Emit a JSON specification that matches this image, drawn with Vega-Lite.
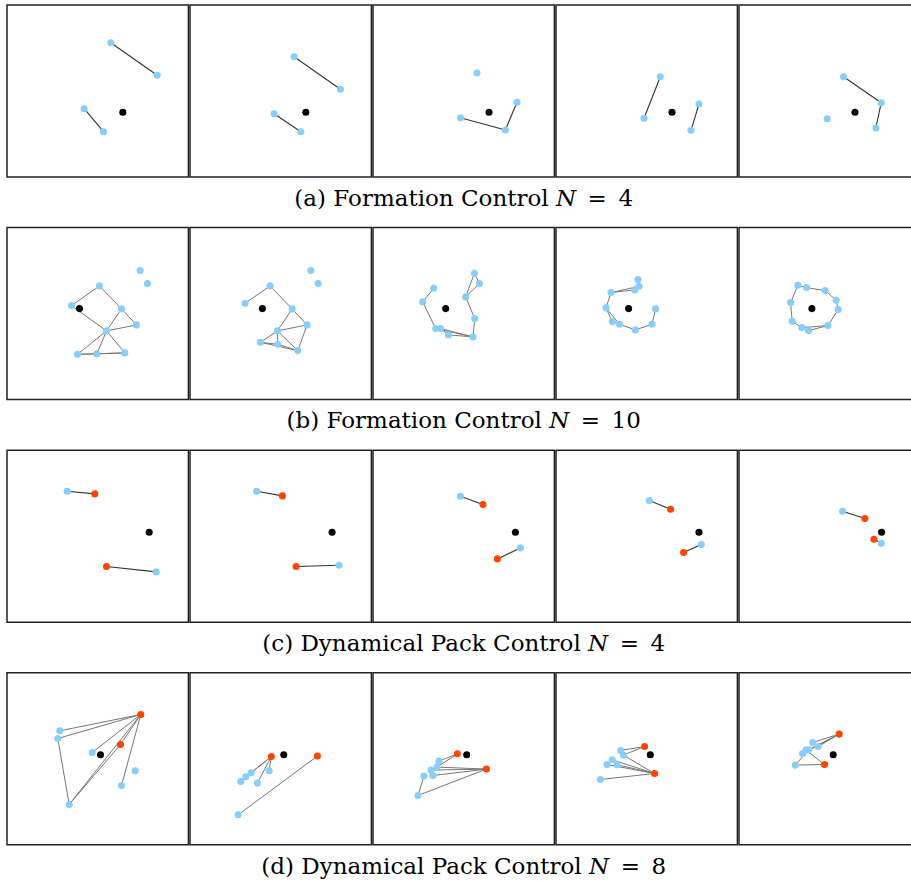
{
  "$schema": "https://vega.github.io/schema/vega-lite/v6.json",
  "padding": {"left": 6, "top": 4, "right": 0, "bottom": 0},
  "background": "white",
  "spacing": 15.6,
  "config": {
    "view": {"stroke": "#222", "strokeWidth": 1.5},
    "title": {"font": "DejaVu Serif", "fontSize": 23, "fontWeight": "normal", "color": "#000", "offset": 10, "anchor": "middle"}
  },
  "datasets": {
    "a": [
      {"p":1,"k":"e","x":103.8,"y":37.7,"x2":150.2,"y2":70.3},
      {"p":1,"k":"e","x":77.2,"y":103.7,"x2":96.5,"y2":126.7},
      {"p":1,"k":"n","t":"f","x":103.8,"y":37.7},
      {"p":1,"k":"n","t":"f","x":150.2,"y":70.3},
      {"p":1,"k":"n","t":"f","x":77.2,"y":103.7},
      {"p":1,"k":"n","t":"f","x":96.5,"y":126.7},
      {"p":1,"k":"n","t":"l","x":115.8,"y":107.3},
      {"p":2,"k":"e","x":104.1,"y":51.7,"x2":150.4,"y2":84.3},
      {"p":2,"k":"e","x":84.1,"y":108.7,"x2":110.8,"y2":126.7},
      {"p":2,"k":"n","t":"f","x":104.1,"y":51.7},
      {"p":2,"k":"n","t":"f","x":150.4,"y":84.3},
      {"p":2,"k":"n","t":"f","x":84.1,"y":108.7},
      {"p":2,"k":"n","t":"f","x":110.8,"y":126.7},
      {"p":2,"k":"n","t":"l","x":115.8,"y":107.3},
      {"p":3,"k":"e","x":87.4,"y":112.7,"x2":132.4,"y2":125},
      {"p":3,"k":"e","x":132.4,"y":125,"x2":144,"y2":97.3},
      {"p":3,"k":"n","t":"f","x":104,"y":68},
      {"p":3,"k":"n","t":"f","x":144,"y":97.3},
      {"p":3,"k":"n","t":"f","x":87.4,"y":112.7},
      {"p":3,"k":"n","t":"f","x":132.4,"y":125},
      {"p":3,"k":"n","t":"l","x":116,"y":107.3},
      {"p":4,"k":"e","x":104.3,"y":71.7,"x2":88,"y2":113.3},
      {"p":4,"k":"e","x":143,"y":99,"x2":135,"y2":125.3},
      {"p":4,"k":"n","t":"f","x":104.3,"y":71.7},
      {"p":4,"k":"n","t":"f","x":88,"y":113.3},
      {"p":4,"k":"n","t":"f","x":143,"y":99},
      {"p":4,"k":"n","t":"f","x":135,"y":125.3},
      {"p":4,"k":"n","t":"l","x":116,"y":107.3},
      {"p":5,"k":"e","x":104.6,"y":71.7,"x2":142.2,"y2":97.7},
      {"p":5,"k":"e","x":142.2,"y":97.7,"x2":136.9,"y2":123},
      {"p":5,"k":"n","t":"f","x":104.6,"y":71.7},
      {"p":5,"k":"n","t":"f","x":142.2,"y":97.7},
      {"p":5,"k":"n","t":"f","x":136.9,"y":123},
      {"p":5,"k":"n","t":"f","x":88.2,"y":113.7},
      {"p":5,"k":"n","t":"l","x":116,"y":107.3}
    ],
    "b": [
      {"p":1,"k":"e","x":64.5,"y":78,"x2":92.5,"y2":58.3},
      {"p":1,"k":"e","x":92.5,"y":58.3,"x2":114.5,"y2":81.3},
      {"p":1,"k":"e","x":114.5,"y":81.3,"x2":129.5,"y2":97.3},
      {"p":1,"k":"e","x":114.5,"y":81.3,"x2":99.5,"y2":103.3},
      {"p":1,"k":"e","x":129.5,"y":97.3,"x2":99.5,"y2":103.3},
      {"p":1,"k":"e","x":64.5,"y":78,"x2":99.5,"y2":103.3},
      {"p":1,"k":"e","x":99.5,"y":103.3,"x2":70.5,"y2":126.7},
      {"p":1,"k":"e","x":99.5,"y":103.3,"x2":89.8,"y2":126.3},
      {"p":1,"k":"e","x":99.5,"y":103.3,"x2":117.8,"y2":125.3},
      {"p":1,"k":"e","x":70.5,"y":126.7,"x2":89.8,"y2":126.3},
      {"p":1,"k":"e","x":89.8,"y":126.3,"x2":117.8,"y2":125.3},
      {"p":1,"k":"e","x":70.5,"y":126.7,"x2":117.8,"y2":125.3},
      {"p":1,"k":"n","t":"f","x":133.2,"y":43},
      {"p":1,"k":"n","t":"f","x":140.5,"y":56},
      {"p":1,"k":"n","t":"f","x":92.5,"y":58.3},
      {"p":1,"k":"n","t":"f","x":64.5,"y":78},
      {"p":1,"k":"n","t":"f","x":114.5,"y":81.3},
      {"p":1,"k":"n","t":"f","x":129.5,"y":97.3},
      {"p":1,"k":"n","t":"f","x":99.5,"y":103.3},
      {"p":1,"k":"n","t":"f","x":70.5,"y":126.7},
      {"p":1,"k":"n","t":"f","x":89.8,"y":126.3},
      {"p":1,"k":"n","t":"f","x":117.8,"y":125.3},
      {"p":1,"k":"n","t":"l","x":72.5,"y":81},
      {"p":2,"k":"e","x":55.1,"y":75.7,"x2":80.1,"y2":58.3},
      {"p":2,"k":"e","x":80.1,"y":58.3,"x2":102.1,"y2":81.3},
      {"p":2,"k":"e","x":102.1,"y":81.3,"x2":87.4,"y2":103.3},
      {"p":2,"k":"e","x":102.1,"y":81.3,"x2":117.1,"y2":97.3},
      {"p":2,"k":"e","x":87.4,"y":103.3,"x2":117.1,"y2":97.3},
      {"p":2,"k":"e","x":117.1,"y":97.3,"x2":107.8,"y2":123},
      {"p":2,"k":"e","x":87.4,"y":103.3,"x2":70.4,"y2":114.7},
      {"p":2,"k":"e","x":87.4,"y":103.3,"x2":87.8,"y2":116.7},
      {"p":2,"k":"e","x":87.4,"y":103.3,"x2":107.8,"y2":123},
      {"p":2,"k":"e","x":70.4,"y":114.7,"x2":87.8,"y2":116.7},
      {"p":2,"k":"e","x":70.4,"y":114.7,"x2":107.8,"y2":123},
      {"p":2,"k":"e","x":87.8,"y":116.7,"x2":107.8,"y2":123},
      {"p":2,"k":"n","t":"f","x":120.8,"y":43},
      {"p":2,"k":"n","t":"f","x":128.1,"y":56},
      {"p":2,"k":"n","t":"f","x":80.1,"y":58.3},
      {"p":2,"k":"n","t":"f","x":55.1,"y":75.7},
      {"p":2,"k":"n","t":"f","x":102.1,"y":81.3},
      {"p":2,"k":"n","t":"f","x":117.1,"y":97.3},
      {"p":2,"k":"n","t":"f","x":87.4,"y":103.3},
      {"p":2,"k":"n","t":"f","x":70.4,"y":114.7},
      {"p":2,"k":"n","t":"f","x":87.8,"y":116.7},
      {"p":2,"k":"n","t":"f","x":107.8,"y":123},
      {"p":2,"k":"n","t":"l","x":72.4,"y":81},
      {"p":3,"k":"e","x":60.7,"y":60.7,"x2":49.7,"y2":74.3},
      {"p":3,"k":"e","x":49.7,"y":74.3,"x2":62.7,"y2":101},
      {"p":3,"k":"e","x":62.7,"y":101,"x2":67.7,"y2":101},
      {"p":3,"k":"e","x":62.7,"y":101,"x2":100,"y2":109.3},
      {"p":3,"k":"e","x":67.7,"y":101,"x2":75.4,"y2":107.3},
      {"p":3,"k":"e","x":67.7,"y":101,"x2":100,"y2":109.3},
      {"p":3,"k":"e","x":75.4,"y":107.3,"x2":100,"y2":109.3},
      {"p":3,"k":"e","x":100,"y":109.3,"x2":101.7,"y2":91},
      {"p":3,"k":"e","x":101.7,"y":91,"x2":92.7,"y2":69.3},
      {"p":3,"k":"e","x":92.7,"y":69.3,"x2":101.4,"y2":45.7},
      {"p":3,"k":"e","x":92.7,"y":69.3,"x2":106.4,"y2":56},
      {"p":3,"k":"e","x":101.4,"y":45.7,"x2":106.4,"y2":56},
      {"p":3,"k":"n","t":"f","x":101.4,"y":45.7},
      {"p":3,"k":"n","t":"f","x":106.4,"y":56},
      {"p":3,"k":"n","t":"f","x":92.7,"y":69.3},
      {"p":3,"k":"n","t":"f","x":60.7,"y":60.7},
      {"p":3,"k":"n","t":"f","x":49.7,"y":74.3},
      {"p":3,"k":"n","t":"f","x":101.7,"y":91},
      {"p":3,"k":"n","t":"f","x":100,"y":109.3},
      {"p":3,"k":"n","t":"f","x":62.7,"y":101},
      {"p":3,"k":"n","t":"f","x":67.7,"y":101},
      {"p":3,"k":"n","t":"f","x":75.4,"y":107.3},
      {"p":3,"k":"n","t":"l","x":72.7,"y":81},
      {"p":4,"k":"e","x":55,"y":65,"x2":83,"y2":58.7},
      {"p":4,"k":"e","x":55,"y":65,"x2":78.6,"y2":62.3},
      {"p":4,"k":"e","x":82,"y":52,"x2":83,"y2":58.7},
      {"p":4,"k":"e","x":55,"y":65,"x2":50,"y2":80.3},
      {"p":4,"k":"e","x":50,"y":80.3,"x2":56.3,"y2":94},
      {"p":4,"k":"e","x":50,"y":80.3,"x2":63.6,"y2":96.7},
      {"p":4,"k":"e","x":56.3,"y":94,"x2":63.6,"y2":96.7},
      {"p":4,"k":"e","x":63.6,"y":96.7,"x2":79.3,"y2":102.3},
      {"p":4,"k":"e","x":79.3,"y":102.3,"x2":96,"y2":96.7},
      {"p":4,"k":"e","x":96,"y":96.7,"x2":99.6,"y2":81.3},
      {"p":4,"k":"n","t":"f","x":82,"y":52},
      {"p":4,"k":"n","t":"f","x":83,"y":58.7},
      {"p":4,"k":"n","t":"f","x":78.6,"y":62.3},
      {"p":4,"k":"n","t":"f","x":55,"y":65},
      {"p":4,"k":"n","t":"f","x":50,"y":80.3},
      {"p":4,"k":"n","t":"f","x":99.6,"y":81.3},
      {"p":4,"k":"n","t":"f","x":96,"y":96.7},
      {"p":4,"k":"n","t":"f","x":79.3,"y":102.3},
      {"p":4,"k":"n","t":"f","x":63.6,"y":96.7},
      {"p":4,"k":"n","t":"f","x":56.3,"y":94},
      {"p":4,"k":"n","t":"l","x":72.6,"y":81},
      {"p":5,"k":"e","x":58.9,"y":57.7,"x2":67.6,"y2":60},
      {"p":5,"k":"e","x":67.6,"y":60,"x2":86.2,"y2":63},
      {"p":5,"k":"e","x":86.2,"y":63,"x2":97.2,"y2":72.7},
      {"p":5,"k":"e","x":97.2,"y":72.7,"x2":99.2,"y2":82},
      {"p":5,"k":"e","x":99.2,"y":82,"x2":88.9,"y2":98},
      {"p":5,"k":"e","x":88.9,"y":98,"x2":69.6,"y2":103},
      {"p":5,"k":"e","x":88.9,"y":98,"x2":62.9,"y2":100},
      {"p":5,"k":"e","x":69.6,"y":103,"x2":62.9,"y2":100},
      {"p":5,"k":"e","x":62.9,"y":100,"x2":53.2,"y2":93.7},
      {"p":5,"k":"e","x":53.2,"y":93.7,"x2":51.6,"y2":75},
      {"p":5,"k":"e","x":51.6,"y":75,"x2":58.9,"y2":57.7},
      {"p":5,"k":"n","t":"f","x":58.9,"y":57.7},
      {"p":5,"k":"n","t":"f","x":67.6,"y":60},
      {"p":5,"k":"n","t":"f","x":86.2,"y":63},
      {"p":5,"k":"n","t":"f","x":97.2,"y":72.7},
      {"p":5,"k":"n","t":"f","x":99.2,"y":82},
      {"p":5,"k":"n","t":"f","x":88.9,"y":98},
      {"p":5,"k":"n","t":"f","x":69.6,"y":103},
      {"p":5,"k":"n","t":"f","x":62.9,"y":100},
      {"p":5,"k":"n","t":"f","x":53.2,"y":93.7},
      {"p":5,"k":"n","t":"f","x":51.6,"y":75},
      {"p":5,"k":"n","t":"l","x":72.9,"y":81}
    ],
    "c": [
      {"p":1,"k":"e","x":60.2,"y":41,"x2":87.8,"y2":43.7},
      {"p":1,"k":"e","x":99.5,"y":116.3,"x2":149.2,"y2":121.7},
      {"p":1,"k":"n","t":"f","x":60.2,"y":41},
      {"p":1,"k":"n","t":"r","x":87.8,"y":43.7},
      {"p":1,"k":"n","t":"l","x":142.2,"y":82},
      {"p":1,"k":"n","t":"r","x":99.5,"y":116.3},
      {"p":1,"k":"n","t":"f","x":149.2,"y":121.7},
      {"p":2,"k":"e","x":66.8,"y":41,"x2":92.4,"y2":45.7},
      {"p":2,"k":"e","x":106.1,"y":116.3,"x2":149.1,"y2":115},
      {"p":2,"k":"n","t":"f","x":66.8,"y":41},
      {"p":2,"k":"n","t":"r","x":92.4,"y":45.7},
      {"p":2,"k":"n","t":"l","x":142.1,"y":82},
      {"p":2,"k":"n","t":"r","x":106.1,"y":116.3},
      {"p":2,"k":"n","t":"f","x":149.1,"y":115},
      {"p":3,"k":"e","x":87.4,"y":46,"x2":110,"y2":54.3},
      {"p":3,"k":"e","x":147.4,"y":97.7,"x2":124.4,"y2":108.7},
      {"p":3,"k":"n","t":"f","x":87.4,"y":46},
      {"p":3,"k":"n","t":"r","x":110,"y":54.3},
      {"p":3,"k":"n","t":"l","x":142.4,"y":82},
      {"p":3,"k":"n","t":"f","x":147.4,"y":97.7},
      {"p":3,"k":"n","t":"r","x":124.4,"y":108.7},
      {"p":4,"k":"e","x":93.3,"y":50.3,"x2":114.6,"y2":59},
      {"p":4,"k":"e","x":145.3,"y":94.3,"x2":127.6,"y2":102.3},
      {"p":4,"k":"n","t":"f","x":93.3,"y":50.3},
      {"p":4,"k":"n","t":"r","x":114.6,"y":59},
      {"p":4,"k":"n","t":"l","x":143,"y":82},
      {"p":4,"k":"n","t":"f","x":145.3,"y":94.3},
      {"p":4,"k":"n","t":"r","x":127.6,"y":102.3},
      {"p":5,"k":"e","x":103.6,"y":61,"x2":125.9,"y2":68.3},
      {"p":5,"k":"e","x":134.9,"y":89,"x2":142.2,"y2":93},
      {"p":5,"k":"n","t":"f","x":103.6,"y":61},
      {"p":5,"k":"n","t":"r","x":125.9,"y":68.3},
      {"p":5,"k":"n","t":"l","x":142.6,"y":82},
      {"p":5,"k":"n","t":"r","x":134.9,"y":89},
      {"p":5,"k":"n","t":"f","x":142.2,"y":93}
    ],
    "d": [
      {"p":1,"k":"e","x":133.8,"y":41.7,"x2":52.8,"y2":58},
      {"p":1,"k":"e","x":133.8,"y":41.7,"x2":50.8,"y2":65.7},
      {"p":1,"k":"e","x":50.8,"y":65.7,"x2":62.2,"y2":131.7},
      {"p":1,"k":"e","x":133.8,"y":41.7,"x2":85.2,"y2":79.7},
      {"p":1,"k":"e","x":133.8,"y":41.7,"x2":62.2,"y2":131.7},
      {"p":1,"k":"e","x":113.5,"y":71.7,"x2":62.2,"y2":131.7},
      {"p":1,"k":"e","x":133.8,"y":41.7,"x2":114.5,"y2":112.7},
      {"p":1,"k":"e","x":133.8,"y":41.7,"x2":113.5,"y2":71.7},
      {"p":1,"k":"n","t":"r","x":133.8,"y":41.7},
      {"p":1,"k":"n","t":"f","x":52.8,"y":58},
      {"p":1,"k":"n","t":"f","x":50.8,"y":65.7},
      {"p":1,"k":"n","t":"r","x":113.5,"y":71.7},
      {"p":1,"k":"n","t":"f","x":85.2,"y":79.7},
      {"p":1,"k":"n","t":"l","x":93.5,"y":82},
      {"p":1,"k":"n","t":"f","x":128.2,"y":98},
      {"p":1,"k":"n","t":"f","x":114.5,"y":112.7},
      {"p":1,"k":"n","t":"f","x":62.2,"y":131.7},
      {"p":2,"k":"e","x":81.4,"y":83.7,"x2":61.1,"y2":100},
      {"p":2,"k":"e","x":81.4,"y":83.7,"x2":55.8,"y2":104},
      {"p":2,"k":"e","x":81.4,"y":83.7,"x2":79.1,"y2":98},
      {"p":2,"k":"e","x":81.4,"y":83.7,"x2":67.4,"y2":110.3},
      {"p":2,"k":"e","x":127.4,"y":83.3,"x2":48.1,"y2":142},
      {"p":2,"k":"n","t":"r","x":81.4,"y":83.7},
      {"p":2,"k":"n","t":"l","x":93.8,"y":82},
      {"p":2,"k":"n","t":"r","x":127.4,"y":83.3},
      {"p":2,"k":"n","t":"f","x":79.1,"y":98},
      {"p":2,"k":"n","t":"f","x":61.1,"y":100},
      {"p":2,"k":"n","t":"f","x":55.8,"y":104},
      {"p":2,"k":"n","t":"f","x":50.8,"y":108.7},
      {"p":2,"k":"n","t":"f","x":67.4,"y":110.3},
      {"p":2,"k":"n","t":"f","x":48.1,"y":142},
      {"p":3,"k":"e","x":84.4,"y":81,"x2":66,"y2":88.3},
      {"p":3,"k":"e","x":84.4,"y":81,"x2":64,"y2":94.3},
      {"p":3,"k":"e","x":113.4,"y":96.3,"x2":64,"y2":94.3},
      {"p":3,"k":"e","x":113.4,"y":96.3,"x2":58,"y2":97.3},
      {"p":3,"k":"e","x":113.4,"y":96.3,"x2":60,"y2":102.7},
      {"p":3,"k":"e","x":113.4,"y":96.3,"x2":45,"y2":122.7},
      {"p":3,"k":"e","x":51,"y":103.3,"x2":45,"y2":122.7},
      {"p":3,"k":"n","t":"r","x":84.4,"y":81},
      {"p":3,"k":"n","t":"l","x":93.7,"y":82},
      {"p":3,"k":"n","t":"r","x":113.4,"y":96.3},
      {"p":3,"k":"n","t":"f","x":66,"y":88.3},
      {"p":3,"k":"n","t":"f","x":64,"y":94.3},
      {"p":3,"k":"n","t":"f","x":58,"y":97.3},
      {"p":3,"k":"n","t":"f","x":60,"y":102.7},
      {"p":3,"k":"n","t":"f","x":51,"y":103.3},
      {"p":3,"k":"n","t":"f","x":45,"y":122.7},
      {"p":4,"k":"e","x":88.6,"y":73.7,"x2":64.6,"y2":77.7},
      {"p":4,"k":"e","x":88.6,"y":73.7,"x2":67.3,"y2":82.3},
      {"p":4,"k":"e","x":67.3,"y":82.3,"x2":98.6,"y2":100.7},
      {"p":4,"k":"e","x":98.6,"y":100.7,"x2":56.3,"y2":87},
      {"p":4,"k":"e","x":98.6,"y":100.7,"x2":61.3,"y2":92},
      {"p":4,"k":"e","x":98.6,"y":100.7,"x2":51,"y2":91.7},
      {"p":4,"k":"e","x":98.6,"y":100.7,"x2":44.3,"y2":106.7},
      {"p":4,"k":"n","t":"r","x":88.6,"y":73.7},
      {"p":4,"k":"n","t":"l","x":94.3,"y":82},
      {"p":4,"k":"n","t":"r","x":98.6,"y":100.7},
      {"p":4,"k":"n","t":"f","x":64.6,"y":77.7},
      {"p":4,"k":"n","t":"f","x":67.3,"y":82.3},
      {"p":4,"k":"n","t":"f","x":56.3,"y":87},
      {"p":4,"k":"n","t":"f","x":51,"y":91.7},
      {"p":4,"k":"n","t":"f","x":61.3,"y":92},
      {"p":4,"k":"n","t":"f","x":44.3,"y":106.7},
      {"p":5,"k":"e","x":100.2,"y":61.3,"x2":73.6,"y2":69.7},
      {"p":5,"k":"e","x":100.2,"y":61.3,"x2":79.2,"y2":73.7},
      {"p":5,"k":"e","x":100.2,"y":61.3,"x2":69.6,"y2":77},
      {"p":5,"k":"e","x":100.2,"y":61.3,"x2":63.6,"y2":80.7},
      {"p":5,"k":"e","x":66.9,"y":77.3,"x2":85.6,"y2":91.7},
      {"p":5,"k":"e","x":56.2,"y":92.3,"x2":85.6,"y2":91.7},
      {"p":5,"k":"e","x":56.2,"y":92.3,"x2":69.6,"y2":77},
      {"p":5,"k":"n","t":"r","x":100.2,"y":61.3},
      {"p":5,"k":"n","t":"l","x":94.2,"y":82},
      {"p":5,"k":"n","t":"r","x":85.6,"y":91.7},
      {"p":5,"k":"n","t":"f","x":73.6,"y":69.7},
      {"p":5,"k":"n","t":"f","x":79.2,"y":73.7},
      {"p":5,"k":"n","t":"f","x":69.6,"y":77},
      {"p":5,"k":"n","t":"f","x":66.9,"y":77.3},
      {"p":5,"k":"n","t":"f","x":63.6,"y":80.7},
      {"p":5,"k":"n","t":"f","x":56.2,"y":92.3}
    ]
  },
  "vconcat": [
    {
      "data": {"name": "a"},
      "title": {"text": "(a) Formation Control 𝑁\u2002=\u20024", "orient": "bottom"},
      "facet": {"column": {"field": "p", "type": "ordinal", "header": null}},
      "spacing": -1.5,
      "spec": {
        "width": 181.4, "height": 172,
        "layer": [
          {"transform": [{"filter": "datum.k == 'e'"}],
           "mark": {"type": "rule", "color": "#333", "strokeWidth": 1.1},
           "encoding": {
             "x": {"field": "x", "type": "quantitative", "scale": {"domain": [0, 181.4], "nice": false, "zero": false}, "axis": null},
             "y": {"field": "y", "type": "quantitative", "scale": {"domain": [0, 172], "nice": false, "zero": false, "reverse": true}, "axis": null},
             "x2": {"field": "x2"}, "y2": {"field": "y2"}}},
          {"transform": [{"filter": "datum.k == 'n'"}],
           "mark": {"type": "circle", "size": 50, "opacity": 1},
           "encoding": {
             "x": {"field": "x", "type": "quantitative", "scale": {"domain": [0, 181.4], "nice": false, "zero": false}, "axis": null},
             "y": {"field": "y", "type": "quantitative", "scale": {"domain": [0, 172], "nice": false, "zero": false, "reverse": true}, "axis": null},
             "color": {"field": "t", "type": "nominal", "scale": {"domain": ["f", "l", "r"], "range": ["#87CEFA", "#000000", "#FF4500"]}, "legend": null}}}
        ]
      }
    },
    {
      "data": {"name": "b"},
      "title": {"text": "(b) Formation Control 𝑁\u2002=\u200210", "orient": "bottom"},
      "facet": {"column": {"field": "p", "type": "ordinal", "header": null}},
      "spacing": -1.5,
      "spec": {
        "width": 181.4, "height": 172,
        "layer": [
          {"transform": [{"filter": "datum.k == 'e'"}],
           "mark": {"type": "rule", "color": "#777", "strokeWidth": 1},
           "encoding": {
             "x": {"field": "x", "type": "quantitative", "scale": {"domain": [0, 181.4], "nice": false, "zero": false}, "axis": null},
             "y": {"field": "y", "type": "quantitative", "scale": {"domain": [0, 172], "nice": false, "zero": false, "reverse": true}, "axis": null},
             "x2": {"field": "x2"}, "y2": {"field": "y2"}}},
          {"transform": [{"filter": "datum.k == 'n'"}],
           "mark": {"type": "circle", "size": 50, "opacity": 1},
           "encoding": {
             "x": {"field": "x", "type": "quantitative", "scale": {"domain": [0, 181.4], "nice": false, "zero": false}, "axis": null},
             "y": {"field": "y", "type": "quantitative", "scale": {"domain": [0, 172], "nice": false, "zero": false, "reverse": true}, "axis": null},
             "color": {"field": "t", "type": "nominal", "scale": {"domain": ["f", "l", "r"], "range": ["#87CEFA", "#000000", "#FF4500"]}, "legend": null}}}
        ]
      }
    },
    {
      "data": {"name": "c"},
      "title": {"text": "(c) Dynamical Pack Control 𝑁\u2002=\u20024", "orient": "bottom"},
      "facet": {"column": {"field": "p", "type": "ordinal", "header": null}},
      "spacing": -1.5,
      "spec": {
        "width": 181.4, "height": 172,
        "layer": [
          {"transform": [{"filter": "datum.k == 'e'"}],
           "mark": {"type": "rule", "color": "#333", "strokeWidth": 1.1},
           "encoding": {
             "x": {"field": "x", "type": "quantitative", "scale": {"domain": [0, 181.4], "nice": false, "zero": false}, "axis": null},
             "y": {"field": "y", "type": "quantitative", "scale": {"domain": [0, 172], "nice": false, "zero": false, "reverse": true}, "axis": null},
             "x2": {"field": "x2"}, "y2": {"field": "y2"}}},
          {"transform": [{"filter": "datum.k == 'n'"}],
           "mark": {"type": "circle", "size": 50, "opacity": 1},
           "encoding": {
             "x": {"field": "x", "type": "quantitative", "scale": {"domain": [0, 181.4], "nice": false, "zero": false}, "axis": null},
             "y": {"field": "y", "type": "quantitative", "scale": {"domain": [0, 172], "nice": false, "zero": false, "reverse": true}, "axis": null},
             "color": {"field": "t", "type": "nominal", "scale": {"domain": ["f", "l", "r"], "range": ["#87CEFA", "#000000", "#FF4500"]}, "legend": null}}}
        ]
      }
    },
    {
      "data": {"name": "d"},
      "title": {"text": "(d) Dynamical Pack Control 𝑁\u2002=\u20028", "orient": "bottom"},
      "facet": {"column": {"field": "p", "type": "ordinal", "header": null}},
      "spacing": -1.5,
      "spec": {
        "width": 181.4, "height": 172,
        "layer": [
          {"transform": [{"filter": "datum.k == 'e'"}],
           "mark": {"type": "rule", "color": "#777", "strokeWidth": 1},
           "encoding": {
             "x": {"field": "x", "type": "quantitative", "scale": {"domain": [0, 181.4], "nice": false, "zero": false}, "axis": null},
             "y": {"field": "y", "type": "quantitative", "scale": {"domain": [0, 172], "nice": false, "zero": false, "reverse": true}, "axis": null},
             "x2": {"field": "x2"}, "y2": {"field": "y2"}}},
          {"transform": [{"filter": "datum.k == 'n'"}],
           "mark": {"type": "circle", "size": 50, "opacity": 1},
           "encoding": {
             "x": {"field": "x", "type": "quantitative", "scale": {"domain": [0, 181.4], "nice": false, "zero": false}, "axis": null},
             "y": {"field": "y", "type": "quantitative", "scale": {"domain": [0, 172], "nice": false, "zero": false, "reverse": true}, "axis": null},
             "color": {"field": "t", "type": "nominal", "scale": {"domain": ["f", "l", "r"], "range": ["#87CEFA", "#000000", "#FF4500"]}, "legend": null}}}
        ]
      }
    }
  ]
}
